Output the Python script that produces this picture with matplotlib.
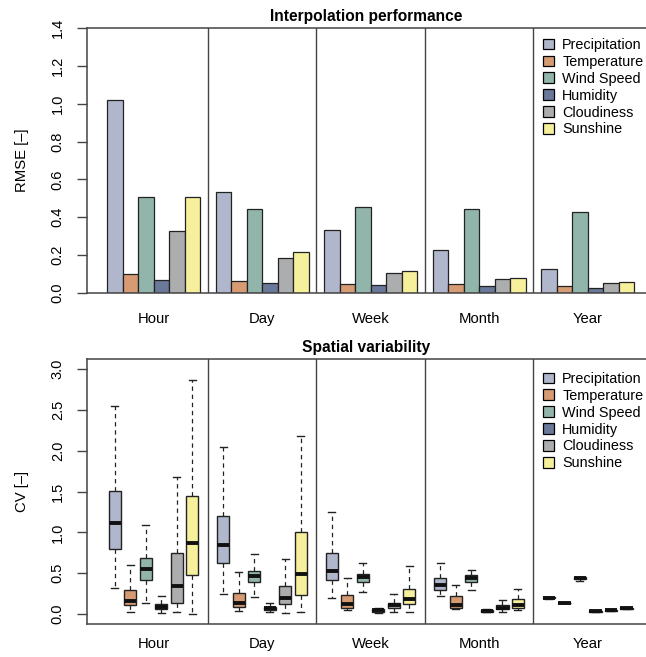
import numpy as np
import matplotlib.pyplot as plt
from matplotlib.patches import Patch

plt.rcParams['font.family'] = ['Liberation Sans', 'DejaVu Sans']

periods = ['Hour', 'Day', 'Week', 'Month', 'Year']
variables = ['Precipitation', 'Temperature', 'Wind Speed', 'Humidity', 'Cloudiness', 'Sunshine']
colors = ['#b0b6cc', '#d79b74', '#92b5ab', '#6a7899', '#abadaf', '#f6f09c']

# RMSE per period (Hour, Day, Week, Month, Year)
rmse_precip = [1.02, 0.532, 0.334, 0.225, 0.127]
rmse_temp = [0.100, 0.063, 0.046, 0.046, 0.035]
rmse_wind = [0.509, 0.444, 0.456, 0.442, 0.430]
rmse_humid = [0.067, 0.051, 0.041, 0.037, 0.028]
rmse_cloud = [0.326, 0.183, 0.107, 0.074, 0.053]
rmse_sun = [0.505, 0.218, 0.116, 0.081, 0.058]

# CV box stats per period: [whisker low, q1, median, q3, whisker high]
cv_precip = [[0.32, 0.80, 1.11, 1.51, 2.55],
             [0.25, 0.63, 0.85, 1.20, 2.05],
             [0.20, 0.42, 0.53, 0.75, 1.25],
             [0.22, 0.29, 0.355, 0.44, 0.62],
             [0.19, 0.195, 0.20, 0.205, 0.21]]
cv_temp = [[0.03, 0.11, 0.16, 0.30, 0.60],
           [0.04, 0.09, 0.14, 0.26, 0.51],
           [0.05, 0.08, 0.12, 0.23, 0.445],
           [0.06, 0.08, 0.11, 0.22, 0.36],
           [0.13, 0.13, 0.135, 0.14, 0.14]]
cv_wind = [[0.13, 0.42, 0.55, 0.68, 1.09],
           [0.21, 0.39, 0.46, 0.53, 0.73],
           [0.27, 0.39, 0.45, 0.49, 0.62],
           [0.30, 0.39, 0.44, 0.48, 0.54],
           [0.41, 0.43, 0.437, 0.45, 0.45]]
cv_humid = [[0.01, 0.06, 0.09, 0.12, 0.22],
            [0.02, 0.05, 0.07, 0.09, 0.13],
            [0.016, 0.03, 0.05, 0.065, 0.08],
            [0.025, 0.03, 0.04, 0.05, 0.06],
            [0.03, 0.03, 0.033, 0.037, 0.04]]
cv_cloud = [[0.03, 0.13, 0.34, 0.75, 1.68],
            [0.01, 0.12, 0.20, 0.34, 0.67],
            [0.02, 0.07, 0.11, 0.14, 0.24],
            [0.03, 0.06, 0.08, 0.11, 0.17],
            [0.04, 0.04, 0.045, 0.05, 0.05]]
cv_sun = [[0.00, 0.48, 0.87, 1.44, 2.87],
          [0.02, 0.23, 0.49, 1.01, 2.18],
          [0.02, 0.12, 0.19, 0.31, 0.59],
          [0.05, 0.08, 0.11, 0.18, 0.31],
          [0.06, 0.065, 0.07, 0.075, 0.08]]

rmse_all = [rmse_precip, rmse_temp, rmse_wind, rmse_humid, rmse_cloud, rmse_sun]
cv_all = [cv_precip, cv_temp, cv_wind, cv_humid, cv_cloud, cv_sun]

nVars = len(variables)
groupWidth = nVars + 1                      # one empty slot between groups
groupStart = np.arange(len(periods)) * groupWidth
groupCenters = groupStart + 1 + nVars / 2.0
separators = groupStart[1:] + 0.5
xlim = (-0.29, 35.77)

fig = plt.figure(figsize=(6.46, 6.57), dpi=100)
axTop = fig.add_axes([0.1347, 0.554, 0.8653, 0.4034])
axBot = fig.add_axes([0.1347, 0.0502, 0.8653, 0.4034])


def styleAxes(ax, yTicks, yLabel, title, xPad, legendY):
    ax.set_xlim(*xlim)
    ax.set_yticks(yTicks)
    ax.set_yticklabels(['%.1f' % t for t in yTicks], rotation=90, va='center')
    ax.tick_params(axis='y', length=7, width=1, pad=9, labelsize=10.5, color='#444')
    ax.set_xticks(groupCenters)
    ax.set_xticklabels(periods, fontsize=10.7)
    ax.tick_params(axis='x', length=0, pad=xPad)
    for name in ['top', 'bottom', 'left']:
        ax.spines[name].set_color('#444')
        ax.spines[name].set_linewidth(1.1)
    ax.spines['right'].set_visible(False)
    ax.set_ylabel(yLabel, fontsize=10.7, va='center')
    ax.yaxis.set_label_coords(-0.116, 0.5)
    ax.set_title(title, fontsize=11.2, fontweight='bold', pad=5)
    for s in separators:
        ax.axvline(s, color='#444', lw=1.0)
    handles = [Patch(facecolor=c, edgecolor='black', lw=0.9) for c in colors]
    ax.legend(handles, variables, loc='upper left', bbox_to_anchor=(0.801, legendY),
              frameon=False, fontsize=10.4, handlelength=0.75, handleheight=0.75,
              handletextpad=0.55, labelspacing=0.2, borderaxespad=0.2)


# Interpolation performance: grouped bars
for j in range(nVars):
    axTop.bar(groupStart + 1.5 + j, rmse_all[j], width=1.0, color=colors[j],
              edgecolor='#222', linewidth=0.9, zorder=2)
axTop.set_ylim(0, 1.4)
styleAxes(axTop, np.arange(0, 1.41, 0.2), 'RMSE [–]', 'Interpolation performance', 14, 0.995)

# Spatial variability: box plots from the summary stats
for j in range(nVars):
    stats = []
    for wl, q1, med, q3, wh in cv_all[j]:
        stats.append({'whislo': wl, 'q1': q1, 'med': med, 'q3': q3, 'whishi': wh})
    axBot.bxp(stats, positions=groupStart + 1.5 + j, widths=0.8, capwidths=0.45,
              showfliers=False, patch_artist=True, manage_ticks=False,
              boxprops=dict(facecolor=colors[j], edgecolor='#222', linewidth=1.0),
              medianprops=dict(color='#111', linewidth=2.8, solid_capstyle='butt'),
              whiskerprops=dict(color='#222', linewidth=0.9, linestyle=(0, (3.5, 3))),
              capprops=dict(color='#222', linewidth=1.0))
axBot.set_ylim(-0.122, 3.122)
styleAxes(axBot, np.arange(0, 3.01, 0.5), 'CV [–]', 'Spatial variability', 9.5, 0.984)

plt.savefig('out.png', dpi=100)
